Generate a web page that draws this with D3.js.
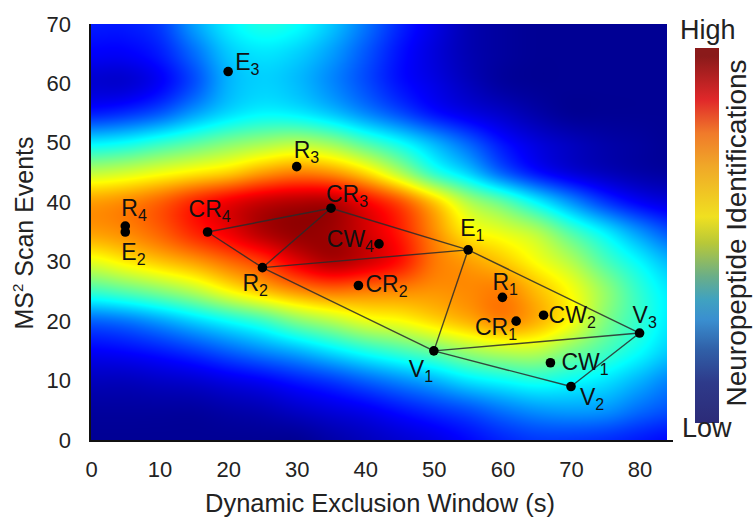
<!DOCTYPE html>
<html>
<head>
<meta charset="utf-8">
<script src="https://cdn.jsdelivr.net/npm/d3@7"></script>
<style>
  body { margin: 0; background: #fff; }
  svg { font-family: "Liberation Sans", Arial, sans-serif; }
</style>
</head>
<body>
<div id="chart"></div>
<script>
// design points (dynamic exclusion window, MS2 scan events)
const pointNames = ["E1", "E2", "E3", "R1", "R2", "R3", "R4", "CR1", "CR2", "CR3", "CR4", "CW1", "CW2", "CW4", "V1", "V2", "V3"];
const pointX = [55, 5, 20, 60, 25, 30, 5, 62, 39, 35, 17, 67, 66, 42, 50, 70, 80];
const pointY = [32, 35, 62, 24, 29, 46, 36, 20, 26, 39, 35, 13, 21, 33, 15, 9, 18];

// mesh edges between points
const edges = [
    ["CR4", "CR3"], ["CR4", "R2"], ["CR3", "R2"], ["CR3", "E1"], ["R2", "E1"],
    ["R2", "V1"], ["E1", "V1"], ["E1", "V3"], ["V1", "V3"], ["V1", "V2"], ["V2", "V3"]
];

// response surface, 0 = low, 1 = high
const gridX = [0, 5, 10, 15, 20, 25, 30, 35, 40, 45, 50, 55, 60, 65, 70, 75, 80, 85];
const gridY = [70, 65, 60, 55, 50, 45, 40, 35, 30, 25, 20, 15, 10, 5, 0];
const gridValues = [
    [.15, .15, .18, .28, .36, .40, .38, .32, .24, .16, .10, .05, .03, .02, .02, .02, .02, .02],
    [.12, .12, .15, .23, .32, .35, .33, .28, .21, .14, .09, .05, .03, .02, .02, .02, .02, .02],
    [.08, .08, .12, .20, .30, .33, .31, .26, .20, .14, .10, .06, .03, .02, .02, .02, .02, .02],
    [.15, .17, .21, .28, .34, .37, .36, .32, .26, .20, .14, .10, .07, .04, .02, .02, .02, .02],
    [.36, .38, .42, .46, .50, .53, .55, .52, .45, .38, .30, .22, .14, .09, .06, .04, .03, .02],
    [.56, .58, .61, .64, .67, .72, .75, .73, .66, .55, .42, .33, .22, .14, .09, .06, .04, .03],
    [.72, .74, .78, .84, .89, .93, .95, .95, .88, .80, .68, .55, .47, .37, .27, .18, .12, .09],
    [.72, .74, .78, .84, .89, .95, .98, .97, .92, .85, .74, .64, .60, .55, .45, .36, .27, .20],
    [.60, .64, .68, .72, .77, .82, .90, .95, .92, .86, .76, .72, .68, .62, .55, .45, .37, .30],
    [.43, .46, .50, .55, .62, .68, .73, .76, .75, .74, .73, .74, .75, .69, .62, .52, .42, .35],
    [.22, .24, .28, .33, .38, .43, .50, .55, .60, .62, .66, .70, .74, .70, .62, .50, .42, .35],
    [.12, .13, .15, .18, .22, .26, .30, .35, .40, .44, .48, .53, .56, .56, .50, .44, .38, .32],
    [.06, .06, .07, .08, .10, .12, .15, .18, .22, .26, .30, .35, .38, .40, .38, .35, .30, .25],
    [.03, .03, .03, .03, .04, .05, .07, .09, .11, .14, .17, .20, .24, .27, .28, .27, .23, .20],
    [.02, .02, .02, .02, .02, .02, .02, .04, .06, .08, .10, .13, .16, .18, .18, .17, .15, .13]
];

const xTicks = [0, 10, 20, 30, 40, 50, 60, 70, 80];
const yTicks = [0, 10, 20, 30, 40, 50, 60, 70];

// colour bar stops (fraction from bottom)
const barStops = [0, .107, .196, .276, .329, .391, .48, .55, .684, .773, .862, .978, 1];
const barColors = ["#2c2b78", "#2e3a8a", "#3060a8", "#3a8fd0", "#40a2c0", "#6aae88", "#b8c838",
    "#f0e020", "#f0a828", "#f07a2a", "#e0282a", "#8a1a1a", "#8a1a1a"];

// label placement around each dot (pixels)
const labelPos = {
    E1: [-8, -14, "start"], E2: [-4, 28, "start"], E3: [7, -2, "start"],
    R1: [-10, -7, "start"], R2: [-20, 23, "start"], R3: [-3, -9, "start"], R4: [-4, -10, "start"],
    CR1: [1, 14, "end"], CR2: [7, 7, "start"], CR3: [-5, -6, "start"], CR4: [-19, -15, "start"],
    CW1: [11, 7, "start"], CW2: [5, 8, "start"], CW4: [-5, 3, "end"],
    V1: [-25, 26, "start"], V2: [9, 18, "start"], V3: [-7, -10, "start"]
};

const width = 753, height = 518;
const plotLeft = 91, plotRight = 667, plotTop = 24, plotBottom = 440;

const svg = d3.select("#chart").append("svg")
    .attr("width", width)
    .attr("height", height);

const x = d3.scaleLinear().domain([0, 84]).range([plotLeft, plotRight]);
const y = d3.scaleLinear().domain([0, 70]).range([plotBottom, plotTop]);

const jet = d3.scaleLinear()
    .domain([0, .125, .375, .625, .875, 1])
    .range(["#000080", "#0000ff", "#00ffff", "#ffff00", "#ff0000", "#800000"])
    .clamp(true);

// bicubic (catmull-rom) lookup in the grid
function cubic(p0, p1, p2, p3, t) {
    return p1 + 0.5 * t * (p2 - p0 + t * (2 * p0 - 5 * p1 + 4 * p2 - p3 + t * (3 * (p1 - p2) + p3 - p0)));
}
const gx = d3.scaleLinear().domain(d3.extent(gridX)).range([0, gridX.length - 1]);
const gy = d3.scaleLinear().domain([gridY[0], gridY[gridY.length - 1]]).range([0, gridY.length - 1]);
function cell(r, c) {
    r = Math.max(0, Math.min(gridY.length - 1, r));
    c = Math.max(0, Math.min(gridX.length - 1, c));
    return gridValues[r][c];
}
function surface(dx, dy) {
    const fc = gx(dx), fr = gy(dy);
    const c = Math.floor(fc), r = Math.floor(fr);
    const tc = fc - c, tr = fr - r;
    const rows = [-1, 0, 1, 2].map(k => cubic(cell(r + k, c - 1), cell(r + k, c), cell(r + k, c + 1), cell(r + k, c + 2), tc));
    return cubic(rows[0], rows[1], rows[2], rows[3], tr);
}

// heat map painted on a canvas, then placed in the svg
const W = plotRight - plotLeft, H = plotBottom - plotTop;
const canvas = document.createElement("canvas");
canvas.width = W; canvas.height = H;
const ctx = canvas.getContext("2d");
const img = ctx.createImageData(W, H);
for (let j = 0; j < H; j++) {
    const dy = y.invert(plotTop + j + 0.5);
    for (let i = 0; i < W; i++) {
        const dx = x.invert(plotLeft + i + 0.5);
        const c = d3.rgb(jet(surface(dx, dy)));
        const k = (j * W + i) * 4;
        img.data[k] = c.r; img.data[k + 1] = c.g; img.data[k + 2] = c.b; img.data[k + 3] = 255;
    }
}
ctx.putImageData(img, 0, 0);

svg.append("image")
    .attr("x", plotLeft).attr("y", plotTop)
    .attr("width", W).attr("height", H)
    .attr("preserveAspectRatio", "none")
    .attr("href", canvas.toDataURL());

// axes
const xAxis = svg.append("g")
    .attr("transform", `translate(0,${plotBottom})`)
    .call(d3.axisBottom(x).tickValues(xTicks).tickSize(0).tickPadding(21));
const yAxis = svg.append("g")
    .attr("transform", `translate(${plotLeft - 1},0)`)
    .call(d3.axisLeft(y).tickValues(yTicks).tickSize(0).tickPadding(19));
[xAxis, yAxis].forEach(a => {
    a.select(".domain").remove();
    a.selectAll("text").attr("font-size", 22).attr("fill", "#222")
        .attr("font-family", "Liberation Sans, Arial, sans-serif");
});

svg.append("line")
    .attr("x1", plotLeft - 1).attr("x2", plotLeft - 1)
    .attr("y1", plotTop).attr("y2", plotBottom + 1)
    .attr("stroke", "#111").attr("stroke-width", 2);
svg.append("line")
    .attr("x1", plotLeft - 2).attr("x2", plotRight + 6)
    .attr("y1", plotBottom + 1).attr("y2", plotBottom + 1)
    .attr("stroke", "#111").attr("stroke-width", 2);

// axis titles
svg.append("text")
    .attr("x", (plotLeft + plotRight) / 2 + 1)
    .attr("y", 512)
    .attr("text-anchor", "middle")
    .attr("font-size", 25.5)
    .attr("fill", "#222")
    .text("Dynamic Exclusion Window (s)");

const yTitle = svg.append("text")
    .attr("transform", "translate(33,233) rotate(-90)")
    .attr("text-anchor", "middle")
    .attr("font-size", 25)
    .attr("fill", "#222");
yTitle.append("tspan").text("MS");
yTitle.append("tspan").attr("font-size", 15).attr("dy", -10).text("2");
yTitle.append("tspan").attr("dy", 10).text(" Scan Events");

// mesh
const idx = name => pointNames.indexOf(name);
svg.append("g").selectAll("line")
    .data(edges)
    .enter()
    .append("line")
    .attr("x1", d => x(pointX[idx(d[0])]))
    .attr("y1", d => y(pointY[idx(d[0])]))
    .attr("x2", d => x(pointX[idx(d[1])]))
    .attr("y2", d => y(pointY[idx(d[1])]))
    .attr("stroke", "#2a2a2a")
    .attr("stroke-opacity", 0.85)
    .attr("stroke-width", 1.4);

// points
svg.append("g").selectAll("circle")
    .data(pointNames)
    .enter()
    .append("circle")
    .attr("cx", (d, i) => x(pointX[i]))
    .attr("cy", (d, i) => y(pointY[i]))
    .attr("r", 4.8)
    .attr("fill", "#000");

const labels = svg.append("g").selectAll("text")
    .data(pointNames)
    .enter()
    .append("text")
    .attr("x", (d, i) => x(pointX[i]) + labelPos[d][0])
    .attr("y", (d, i) => y(pointY[i]) + labelPos[d][1])
    .attr("text-anchor", d => labelPos[d][2])
    .attr("font-size", 23)
    .attr("fill", "#111");
labels.append("tspan").text(d => d.replace(/\d+/, ""));
labels.append("tspan").attr("font-size", 16).attr("dy", 5).text(d => d.replace(/\D+/, ""));

// colour bar
const grad = svg.append("defs").append("linearGradient")
    .attr("id", "bar")
    .attr("x1", 0).attr("x2", 0).attr("y1", 1).attr("y2", 0);
grad.selectAll("stop")
    .data(barStops)
    .enter()
    .append("stop")
    .attr("offset", d => d)
    .attr("stop-color", (d, i) => barColors[i]);

svg.append("rect")
    .attr("x", 695).attr("y", 48)
    .attr("width", 24).attr("height", 375)
    .attr("fill", "url(#bar)");

svg.append("text")
    .attr("x", 680).attr("y", 39)
    .attr("font-size", 27).attr("fill", "#222")
    .text("High");
svg.append("text")
    .attr("x", 682).attr("y", 437)
    .attr("font-size", 27).attr("fill", "#222")
    .text("Low");
svg.append("text")
    .attr("transform", "translate(746,233) rotate(-90)")
    .attr("text-anchor", "middle")
    .attr("font-size", 28).attr("fill", "#222")
    .text("Neuropeptide Identifications");
</script>
</body>
</html>
